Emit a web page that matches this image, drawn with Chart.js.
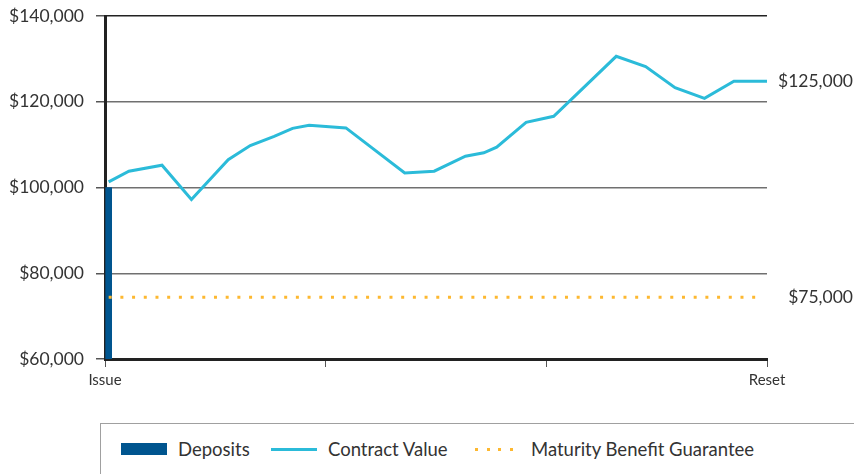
<!DOCTYPE html>
<html>
<head>
<meta charset="utf-8">
<script src="https://cdn.jsdelivr.net/npm/chart.js@4/dist/chart.umd.min.js"></script>
<style>
  body { margin: 0; background: #fff; font-family: Lato, sans-serif; }
  #wrap { position: relative; width: 854px; height: 474px; overflow: hidden; }
  #chartBox { position: absolute; left: 0; top: 0; width: 854px; height: 400px; }
  #legend {
    position: absolute; left: 100px; top: 423px; width: 760px; height: 70px;
    border: 1.5px solid #a0a0a0; box-sizing: border-box;
  }
  .item { position: absolute; top: 14px; font-size: 18.5px; color: #333; line-height: 22px; white-space: nowrap; }
  .sw { position: absolute; }
</style>
</head>
<body>
<div id="wrap">
  <div id="chartBox"><canvas id="myChart"></canvas></div>
  <div id="legend"></div>
</div>
<script>
// months since issue (0 = Issue, 36 = Reset)
const contractMonths = [0.2, 1.3, 3.1, 4.7, 6.7, 7.9, 9.2, 10.2, 11.1, 13.1, 16.3, 17.9, 19.6, 20.6, 21.3, 22.9, 24.4, 27.8, 29.4, 31.0, 32.6, 34.2, 36];
const contractValues = [101300, 103800, 105200, 97200, 106500, 109800, 111900, 113800, 114500, 113900, 103400, 103800, 107300, 108100, 109400, 115200, 116600, 130600, 128200, 123300, 120800, 124800, 124800];
const depositMonths = [0.2];
const depositValues = [100000];
const guaranteeMonths = [0.2, 35.6];
const guaranteeValues = [74400, 74400];
const xTickLabels = { 0: "Issue", 36: "Reset" };
const endLabels = ["$125,000", "$75,000"];

const blue = "#00558f";
const cyan = "#2bbbd9";
const gold = "#fdb830";
const toPoints = (xs, ys) => xs.map((x, i) => ({ x: x, y: ys[i] }));

const endLabelPlugin = {
  id: "endLabels",
  afterDraw(chart) {
    const ctx = chart.ctx;
    const y = chart.scales.y;
    ctx.save();
    ctx.font = "17.5px Lato";
    ctx.fillStyle = "#333";
    ctx.textAlign = "right";
    ctx.textBaseline = "middle";
    ctx.fillText(endLabels[0], 853, y.getPixelForValue(contractValues[contractValues.length - 1]));
    ctx.fillText(endLabels[1], 853, y.getPixelForValue(guaranteeValues[guaranteeValues.length - 1]));
    ctx.restore();
  },
};

const config = {
  type: "bar",
  data: {
    datasets: [
      {
        type: "line",
        label: "Contract Value",
        data: toPoints(contractMonths, contractValues),
        borderColor: cyan,
        borderWidth: 3,
        pointRadius: 0,
        tension: 0,
        order: 1,
      },
      {
        type: "line",
        label: "Maturity Benefit Guarantee",
        data: toPoints(guaranteeMonths, guaranteeValues),
        borderColor: gold,
        borderWidth: 3,
        borderDash: [3, 8.7],
        pointRadius: 0,
        order: 2,
      },
      {
        type: "bar",
        label: "Deposits",
        data: toPoints(depositMonths, depositValues),
        backgroundColor: blue,
        barThickness: 6,
        order: 3,
      },
    ],
  },
  options: {
    responsive: true,
    maintainAspectRatio: false,
    animation: false,
    layout: { padding: { top: 16, right: 87, left: 0, bottom: 0 } },
    plugins: { legend: { display: false }, tooltip: { enabled: false } },
    scales: {
      x: {
        type: "linear",
        min: 0,
        max: 36,
        offset: false,
        afterFit: (s) => { s.height = 41; s.paddingLeft = 0; s.paddingRight = 0; },
        border: { color: "#222", width: 3 },
        grid: { drawOnChartArea: false, tickLength: 8, tickColor: "#555", tickWidth: 1, offset: false },
        ticks: {
          stepSize: 12,
          padding: 4,
          color: "#333",
          font: { family: "Lato", size: 15 },
          maxRotation: 0,
          callback: (v) => xTickLabels[v] || "",
        },
      },
      y: {
        min: 60000,
        max: 140000,
        afterFit: (s) => { s.width = 105; s.paddingTop = 0; s.paddingBottom = 0; },
        border: { color: "#222", width: 3 },
        grid: {
          color: (c) => (c.tick && c.tick.value === 140000 ? "#222" : "#707070"),
          lineWidth: 1.5,
          tickLength: 9,
          tickColor: "#555",
        },
        ticks: {
          stepSize: 20000,
          padding: 12,
          color: "#333",
          font: { family: "Lato", size: 17.5 },
          callback: (v) => "$" + v.toLocaleString("en-US"),
        },
      },
    },
  },
  plugins: [endLabelPlugin],
};

function draw() {
  new Chart(document.getElementById("myChart").getContext("2d"), config);
}
document.fonts.load("16px Lato").then(draw, draw);

// legend below the chart
const legendItems = [
  { label: "Deposits", swatch: "block", swLeft: 20, textLeft: 77 },
  { label: "Contract Value", swatch: "line", swLeft: 170, textLeft: 227 },
  { label: "Maturity Benefit Guarantee", swatch: "dots", swLeft: 374, textLeft: 430 },
];
const legendEl = document.getElementById("legend");
legendItems.forEach((it) => {
  const sw = document.createElement("div");
  sw.className = "sw";
  sw.style.left = it.swLeft + "px";
  if (it.swatch === "block") {
    sw.style.top = "19px"; sw.style.width = "46px"; sw.style.height = "12px"; sw.style.background = blue;
  } else if (it.swatch === "line") {
    sw.style.top = "24px"; sw.style.width = "46px"; sw.style.height = "3px"; sw.style.background = cyan;
  } else {
    sw.style.top = "24px"; sw.style.width = "42px"; sw.style.height = "3px";
    sw.style.background = "repeating-linear-gradient(90deg, " + gold + " 0 3px, transparent 3px 11.7px)";
  }
  legendEl.appendChild(sw);
  const t = document.createElement("div");
  t.className = "item";
  t.style.left = it.textLeft + "px";
  t.textContent = it.label;
  legendEl.appendChild(t);
});
</script>
</body>
</html>
